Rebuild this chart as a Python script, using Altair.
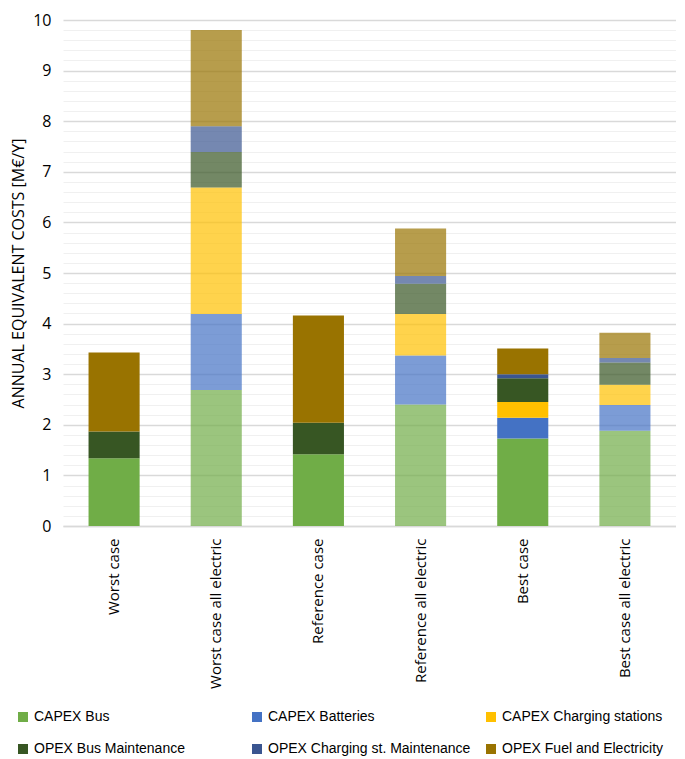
import altair as alt
import pandas as pd

cases = ["Worst case", "Worst case all electric", "Reference case",
         "Reference all electric", "Best case", "Best case all electric"]
series = ["CAPEX Bus", "CAPEX Batteries", "CAPEX Charging stations",
          "OPEX Bus Maintenance", "OPEX Charging st. Maintenance", "OPEX Fuel and Electricity"]

capex_bus = [1.34, 2.69, 1.42, 2.40, 1.73, 1.88]
capex_batteries = [0.0, 1.50, 0.0, 0.97, 0.41, 0.51]
capex_charging = [0.0, 2.50, 0.0, 0.82, 0.31, 0.40]
opex_bus_maint = [0.53, 0.70, 0.62, 0.60, 0.47, 0.44]
opex_charging_maint = [0.0, 0.51, 0.0, 0.15, 0.08, 0.09]
opex_fuel = [1.56, 1.90, 2.12, 0.94, 0.51, 0.50]

colors = ["#70AD47", "#4472C4", "#FFC000", "#375623", "#3A5590", "#997300"]

values = [capex_bus, capex_batteries, capex_charging, opex_bus_maint,
          opex_charging_maint, opex_fuel]
rows = []
for s, vals in zip(series, values):
    for c, v in zip(cases, vals):
        rows.append({"case": c, "series": s, "value": v})
df = pd.DataFrame(rows)

AX_FONT = "Open Sans"
tick_vals = [round(i * 0.2, 1) for i in range(51)]
is_major = "abs(datum.value - round(datum.value)) < 0.01"

bars = alt.Chart(df).transform_calculate(
    ord=f"indexof({series!r}, datum.series)"
).mark_bar().encode(
    x=alt.X("case:N", sort=cases, title=None,
            scale=alt.Scale(paddingInner=0.5, paddingOuter=0.25),
            axis=alt.Axis(labelAngle=-90, labelFont=AX_FONT, labelFontSize=15,
                          labelColor="#000000", ticks=False, domainColor="#D9D9D9",
                          domainWidth=1.5, labelPadding=12, labelLimit=300)),
    y=alt.Y("value:Q", stack="zero", scale=alt.Scale(domain=[0, 10], nice=False),
            title="ANNUAL EQUIVALENT COSTS [M€/Y]",
            axis=alt.Axis(values=tick_vals,
                          labelExpr=f"{is_major} ? format(datum.value, 'd') : ''",
                          labelFont=AX_FONT, labelFontSize=16,
                          labelColor="#000000", ticks=False, domain=False,
                          gridColor={"condition": {"test": is_major, "value": "#D9D9D9"},
                                     "value": "#F0F0F0"},
                          gridWidth={"condition": {"test": is_major, "value": 1.5},
                                     "value": 1},
                          labelPadding=12,
                          titleFont=AX_FONT, titleFontSize=16, titleFontWeight="normal",
                          titleColor="#000000", titlePadding=6)),
    color=alt.Color("series:N", sort=series,
                    scale=alt.Scale(domain=series, range=colors),
                    legend=alt.Legend(title=None, orient="none", legendX=-47, legendY=690,
                                      columns=3, gridAlign="all",
                                      direction="horizontal", symbolType="square",
                                      symbolSize=100, symbolStrokeWidth=0,
                                      labelFont="Liberation Sans", labelFontSize=14,
                                      labelColor="#000000", rowPadding=18,
                                      columnPadding=13, labelLimit=300)),
    order=alt.Order("ord:Q"),
    opacity=alt.condition("indexof(datum.case, 'all electric') >= 0",
                          alt.value(0.7), alt.value(1.0)),
)

chart = bars.properties(
    width=613, height=506, padding={"left": 2, "top": 4, "right": 0, "bottom": 0}
).configure_view(stroke=None).configure_legend(symbolOpacity=1)

chart.save("out.html", embed_options={"renderer": "svg", "actions": False})
